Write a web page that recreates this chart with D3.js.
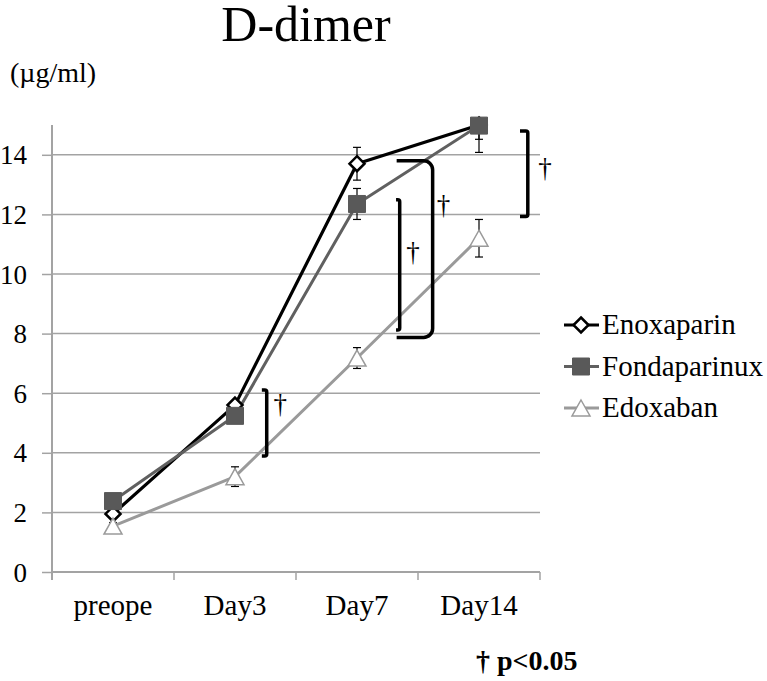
<!DOCTYPE html>
<html>
<head>
<meta charset="utf-8">
<script src="https://cdn.jsdelivr.net/npm/d3@7"></script>
<style>
  body { margin: 0; background: #fff; }
  svg text { font-family: "Liberation Serif", "Times New Roman", serif; fill: #000; }
</style>
</head>
<body>
<svg id="chart" width="767" height="681"></svg>
<script>
// data
var categories = ['preope', 'Day3', 'Day7', 'Day14'];
var enoxaparin = [1.95, 5.6, 13.7, 15.0];
var enoxaparinErr = [0.15, 0.15, 0.55, 0.48];
var fondaparinux = [2.38, 5.24, 12.35, 14.98];
var fondaparinuxErr = [0.15, 0.2, 0.52, 0.9];
var edoxaban = [1.54, 3.2, 7.18, 11.2];
var edoxabanErr = [0.12, 0.33, 0.35, 0.63];
var yTicks = [0, 2, 4, 6, 8, 10, 12, 14];
var seriesNames = ['Enoxaparin', 'Fondaparinux', 'Edoxaban'];
// significance brackets, x in category units, y in µg/ml
var brackets = [
  {x: 1.26, x0: 1.22, lo: 3.89, hi: 6.11, tx: 1.37, ty: 5.57},
  {x: 2.35, x0: 2.32, lo: 8.12, hi: 12.49, tx: 2.46, ty: 10.67},
  {x: 2.62, x0: 2.325, lo: 7.87, hi: 13.8, tx: 2.71, ty: 12.25},
  {x: 3.40, x0: 3.336, lo: 11.93, hi: 14.8, tx: 3.54, ty: 13.5}
];

var svg = d3.select('#chart');
var plotLeft = 52, plotRight = 540, plotTop = 125, plotBottom = 572;
var serif = '"Liberation Serif", "Times New Roman", serif';

var x = d3.scaleBand().domain(categories).range([plotLeft, plotRight]).paddingInner(0).paddingOuter(0);
var xc = function(c) { return x(c) + x.bandwidth() / 2; };
var xPos = d3.scaleLinear().domain([-0.5, categories.length - 0.5]).range([plotLeft, plotRight]);
var y = d3.scaleLinear().domain([0, 15]).range([plotBottom, plotTop]);

// title and unit
svg.append('text').attr('x', 306).attr('y', 41).attr('text-anchor', 'middle')
  .style('font-size', '50px').text('D-dimer');
svg.append('text').attr('x', 10).attr('y', 82).style('font-size', '28px').text('(µg/ml)');

// gridlines
svg.append('g').selectAll('line').data(yTicks.filter(function(d) { return d > 0; })).enter()
  .append('line')
  .attr('x1', plotLeft).attr('x2', plotRight)
  .attr('y1', function(d) { return y(d); }).attr('y2', function(d) { return y(d); })
  .attr('stroke', '#a3a3a3').attr('stroke-width', 1.5);

// y axis
var yAxis = d3.axisLeft(y).tickValues(yTicks).tickSize(10).tickPadding(15);
svg.append('g').attr('transform', 'translate(' + plotLeft + ',0)').call(yAxis)
  .call(function(g) {
    g.select('.domain').attr('stroke', '#a3a3a3').attr('stroke-width', 2)
      .attr('d', 'M0,' + (plotBottom + 8) + 'V' + plotTop);
    g.selectAll('.tick line').attr('stroke', '#a3a3a3').attr('stroke-width', 1.5);
    g.selectAll('.tick text').style('font-size', '27px').style('font-family', serif).attr('dy', '0.34em');
  });

// x axis: ticks between categories
var xAxis = d3.axisBottom(x).tickSize(0).tickPadding(22);
svg.append('g').attr('transform', 'translate(0,' + plotBottom + ')').call(xAxis)
  .call(function(g) {
    g.select('.domain').attr('stroke', '#a3a3a3').attr('stroke-width', 2).attr('d', 'M' + plotLeft + ',0H' + plotRight);
    g.selectAll('.tick text').style('font-size', '29px').style('font-family', serif);
  });
svg.append('g').selectAll('line').data(d3.range(categories.length + 1)).enter()
  .append('line')
  .attr('x1', function(i) { return xPos(i - 0.5); }).attr('x2', function(i) { return xPos(i - 0.5); })
  .attr('y1', plotBottom).attr('y2', plotBottom + 8)
  .attr('stroke', '#a3a3a3').attr('stroke-width', 1.5);

// clip at the top of the value axis
svg.append('clipPath').attr('id', 'plotclip').append('rect')
  .attr('x', 0).attr('y', plotTop).attr('width', 767).attr('height', 681 - plotTop);

// marker shapes
var diamond = function(g, s) {
  g.append('path').attr('d', 'M0,' + (-s) + 'L' + s + ',0L0,' + s + 'L' + (-s) + ',0Z');
};
var square = function(g, s) {
  g.append('path').attr('d', 'M' + (-s) + ',' + (-s) + 'H' + s + 'V' + s + 'H' + (-s) + 'Z');
};
var triangle = function(g, s) {
  g.append('path').attr('d', 'M0,' + (-s) + 'L' + (s + 1) + ',' + s + 'H' + (-s - 1) + 'Z');
};

var series = [
  {name: seriesNames[0], values: enoxaparin, err: enoxaparinErr, line: '#000', width: 3.2,
   shape: diamond, size: 7.5, fill: '#fff', stroke: '#000', sw: 2.5},
  {name: seriesNames[1], values: fondaparinux, err: fondaparinuxErr, line: '#606060', width: 3,
   shape: square, size: 8.5, fill: '#595959', stroke: '#595959', sw: 1},
  {name: seriesNames[2], values: edoxaban, err: edoxabanErr, line: '#9a9a9a', width: 3,
   shape: triangle, size: 8, fill: '#fff', stroke: '#9a9a9a', sw: 1.5}
];

var plot = svg.append('g').attr('clip-path', 'url(#plotclip)');
var line = d3.line().x(function(d, i) { return xc(categories[i]); }).y(function(d) { return y(d); });

series.forEach(function(s) {
  plot.append('path').attr('d', line(s.values)).attr('fill', 'none')
    .attr('stroke', s.line).attr('stroke-width', s.width).attr('stroke-linejoin', 'round');
});

// error bars
series.forEach(function(s) {
  s.values.forEach(function(v, i) {
    var cx = xc(categories[i]);
    var e = plot.append('g').attr('stroke', '#000').attr('stroke-width', 1.2);
    e.append('line').attr('x1', cx).attr('x2', cx).attr('y1', y(v - s.err[i])).attr('y2', y(v + s.err[i]));
    e.append('line').attr('x1', cx - 4).attr('x2', cx + 4).attr('y1', y(v - s.err[i])).attr('y2', y(v - s.err[i]));
    e.append('line').attr('x1', cx - 4).attr('x2', cx + 4).attr('y1', y(v + s.err[i])).attr('y2', y(v + s.err[i]));
  });
});

// markers
series.forEach(function(s) {
  s.values.forEach(function(v, i) {
    var g = svg.append('g').attr('transform', 'translate(' + xc(categories[i]) + ',' + y(v) + ')')
      .attr('fill', s.fill).attr('stroke', s.stroke).attr('stroke-width', s.sw);
    s.shape(g, s.size);
  });
});

// significance brackets
brackets.forEach(function(b, i) {
  var r = i === 2 ? 9 : 2;
  var p = d3.path();
  p.moveTo(xPos(b.x0), y(b.hi));
  p.arcTo(xPos(b.x), y(b.hi), xPos(b.x), y(b.lo), r);
  p.arcTo(xPos(b.x), y(b.lo), xPos(b.x0), y(b.lo), r);
  p.lineTo(xPos(b.x0), y(b.lo));
  svg.append('path').attr('d', p.toString()).attr('fill', 'none')
    .attr('stroke', '#000').attr('stroke-width', 3.5);
  svg.append('text').attr('x', xPos(b.tx)).attr('y', y(b.ty) + 7).attr('text-anchor', 'middle')
    .style('font-size', '27px').text('†');
});

// legend
var legend = svg.append('g').selectAll('g').data(series).enter().append('g')
  .attr('transform', function(d, i) { return 'translate(581,' + (325 + i * 41.5) + ')'; });
legend.append('line').attr('x1', -17).attr('x2', 18).attr('y1', 0).attr('y2', 0)
  .attr('stroke', function(d) { return d.line; }).attr('stroke-width', function(d) { return d.width; });
legend.each(function(d) {
  var g = d3.select(this).append('g').attr('fill', d.fill).attr('stroke', d.stroke).attr('stroke-width', d.sw);
  d.shape(g, d.size);
});
legend.append('text').attr('x', 21).attr('y', 9).style('font-size', '29px').text(function(d) { return d.name; });

// footnote
svg.append('text').attr('x', 476).attr('y', 670).style('font-size', '28px').style('font-weight', 'bold')
  .text('† p<0.05');
</script>
</body>
</html>
